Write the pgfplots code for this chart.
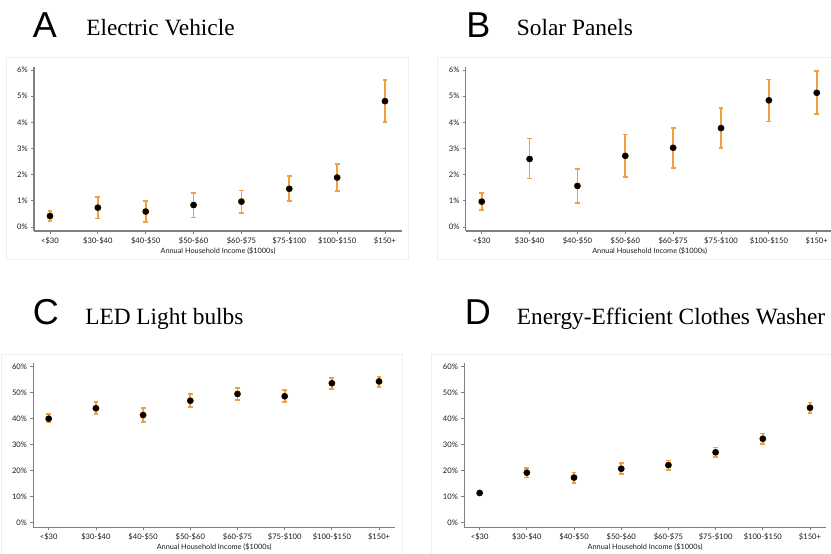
\documentclass[border=0pt]{standalone}
\usepackage{fontspec}
\setmainfont{Liberation Serif}
\newfontfamily\tickfont{Lato}
\newfontfamily\letterfont{Liberation Sans}
\usepackage{pgfplots}
\pgfplotsset{compat=1.18}
\usepackage{pgfplotstable}

\definecolor{ebar}{HTML}{F0A040}
\definecolor{axgray}{HTML}{7F7F7F}
\definecolor{framegray}{HTML}{EFEFEF}

\pgfplotstableread{
x y hi lo
0 0.42 0.61 0.23
1 0.74 1.15 0.32
2 0.59 1.00 0.19
3 0.84 1.29 0.36
4 0.97 1.40 0.54
5 1.46 1.95 0.98
6 1.89 2.40 1.38
7 4.81 5.62 4.02
}\dataA
\pgfplotstableread{
x y hi lo
0 0.97 1.29 0.66
1 2.60 3.38 1.85
2 1.57 2.22 0.91
3 2.72 3.54 1.90
4 3.03 3.78 2.26
5 3.78 4.54 3.01
6 4.84 5.64 4.03
7 5.13 5.95 4.31
}\dataB
\pgfplotstableread{
x y hi lo
0 39.9 41.6 38.4
1 43.9 46.3 41.6
2 41.3 44.0 38.6
3 46.8 49.5 44.3
4 49.4 51.7 47.2
5 48.5 50.8 46.4
6 53.5 55.5 51.4
7 54.2 56.0 52.2
}\dataC
\pgfplotstableread{
x y hi lo
0 11.4 12.2 10.6
1 19.2 21.1 17.3
2 17.3 19.3 15.2
3 20.7 22.8 18.7
4 22.1 23.9 20.2
5 27.0 28.8 25.1
6 32.2 34.2 30.3
7 44.1 46.1 42.2
}\dataD

\pgfplotsset{
  panel/.style={
    scale only axis,
    anchor=south west,
    axis lines*=left,
    axis line style={axgray, line width=0.9pt},
    tick style={axgray, line width=0.6pt},
    tick align=outside,
    major tick length=2.25pt,
    xtick={0,...,7},
    xticklabels={<\$30,\$30-\$40,\$40-\$50,\$50-\$60,\$60-\$75,\$75-\$100,\$100-\$150,\$150+},
    ticklabel style={font=\tickfont\fontsize{5.7}{6}\selectfont, text=black!90},
    xticklabel style={yshift=1pt},
    yticklabel style={xshift=1pt},
    xlabel={Annual Household Income (\$1000s)},
    xlabel style={font=\tickfont\fontsize{5.5}{6}\selectfont, text=black!90, yshift=5pt},
    enlargelimits=false,
    clip=false,
  },
  pct/.style={
    ytick={0,1,2,3,4,5,6},
    yticklabels={0\%,1\%,2\%,3\%,4\%,5\%,6\%},
    xmin=-0.334, xmax=7.355, ymin=-0.153, ymax=6.126,
    width=276pt, height=123.2pt,
  },
  pctb/.style={
    ytick={0,10,20,30,40,50,60},
    yticklabels={0\%,10\%,20\%,30\%,40\%,50\%,60\%},
    xmin=-0.326, xmax=7.339, ymin=-1.76, ymax=61.4,
    width=271.3pt, height=123.45pt,
  },
  bars/.style={
    ebar, line width=1.3pt, only marks, mark=none,
    error bars/.cd, y dir=both, y explicit,
    error mark=-,
    error bar style={ebar, line width=1.3pt},
    error mark options={rotate=90, ebar, line width=1.3pt, mark size=1.8pt},
  },
  dots/.style={
    black, only marks, mark=*, mark size=2.2pt,
  },
}

\begin{document}
\begin{tikzpicture}
\useasboundingbox (0,0) rectangle (623.25pt,414.75pt);
\clip (0,0) rectangle (623.25pt,414.75pt);

% panel frames
\draw[framegray, line width=0.6pt] (4.5pt,220.5pt) rectangle (306.2pt,371.5pt);
\draw[framegray, line width=0.6pt] (328.3pt,220.5pt) rectangle (640pt,371.5pt);
\draw[framegray, line width=0.6pt] (1.3pt,-10pt) rectangle (302pt,149.25pt);
\draw[framegray, line width=0.6pt] (323.8pt,-10pt) rectangle (640pt,149.25pt);

% titles
\node[anchor=base west, inner sep=0pt, font=\letterfont\fontsize{27}{27}\selectfont] at (24.5pt,386.8pt) {A};
\node[anchor=base west, inner sep=0pt, font=\fontsize{17.5}{17.5}\selectfont] at (64.5pt,387.75pt) {Electric Vehicle};
\node[anchor=base west, inner sep=0pt, font=\letterfont\fontsize{27}{27}\selectfont] at (349.5pt,386.8pt) {B};
\node[anchor=base west, inner sep=0pt, font=\fontsize{17.5}{17.5}\selectfont] at (387.5pt,387.75pt) {Solar Panels};
\node[anchor=base west, inner sep=0pt, font=\letterfont\fontsize{27}{27}\selectfont] at (24.5pt,171.5pt) {C};
\node[anchor=base west, inner sep=0pt, font=\fontsize{17.5}{17.5}\selectfont] at (63.75pt,171pt) {LED Light bulbs};
\node[anchor=base west, inner sep=0pt, font=\letterfont\fontsize{27}{27}\selectfont] at (348.5pt,171pt) {D};
\node[anchor=base west, inner sep=0pt, font=\fontsize{17.5}{17.5}\selectfont] at (387.5pt,171pt) {Energy-Efficient Clothes Washer};

\begin{axis}[panel, pct, at={(25.5pt,241.5pt)}]
\addplot[bars] table[x=x, y=y, y error plus expr=\thisrow{hi}-\thisrow{y}, y error minus expr=\thisrow{y}-\thisrow{lo}] {\dataA};
\addplot[dots] table[x=x, y=y] {\dataA};
\end{axis}

\begin{axis}[panel, pct, at={(349.3pt,241.5pt)}]
\addplot[bars] table[x=x, y=y, y error plus expr=\thisrow{hi}-\thisrow{y}, y error minus expr=\thisrow{y}-\thisrow{lo}] {\dataB};
\addplot[dots] table[x=x, y=y] {\dataB};
\end{axis}

\begin{axis}[panel, pctb, at={(25pt,19.3pt)}]
\addplot[bars] table[x=x, y=y, y error plus expr=\thisrow{hi}-\thisrow{y}, y error minus expr=\thisrow{y}-\thisrow{lo}] {\dataC};
\addplot[dots] table[x=x, y=y] {\dataC};
\end{axis}

\begin{axis}[panel, pctb, at={(348.2pt,19.3pt)}]
\addplot[bars] table[x=x, y=y, y error plus expr=\thisrow{hi}-\thisrow{y}, y error minus expr=\thisrow{y}-\thisrow{lo}] {\dataD};
\addplot[dots] table[x=x, y=y] {\dataD};
\end{axis}
\end{tikzpicture}
\end{document}
